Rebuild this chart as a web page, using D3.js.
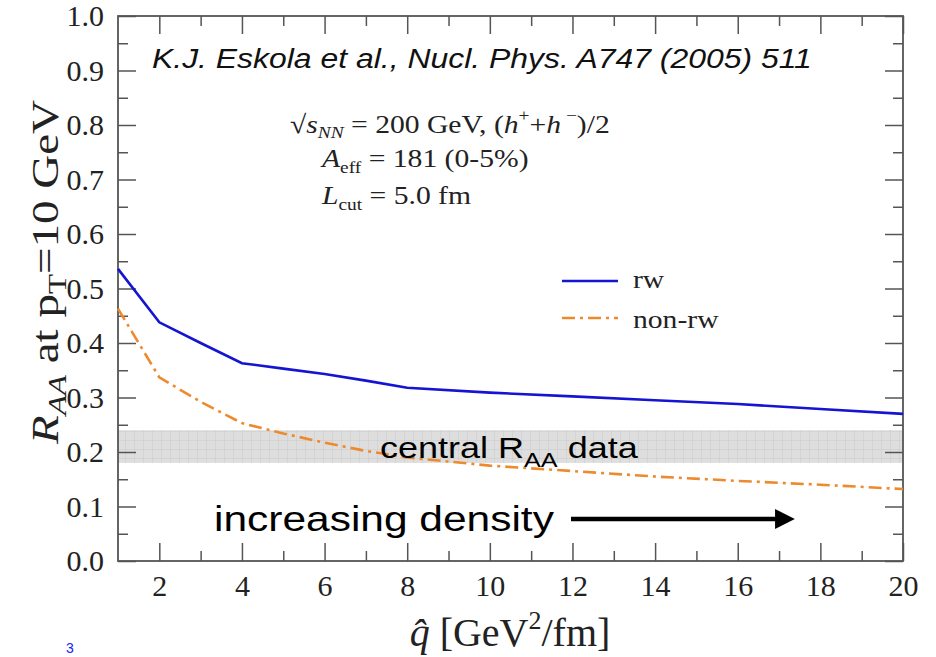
<!DOCTYPE html>
<html>
<head>
<meta charset="utf-8">
<script src="https://cdn.jsdelivr.net/npm/d3@7"></script>
<style>
  html, body { margin: 0; padding: 0; background: #fff; }
  svg { display: block; }
</style>
</head>
<body>
<svg id="chart" width="936" height="657"></svg>
<script>
// q-hat values (GeV^2/fm)
const qhat = [1, 2, 3, 4, 5, 6, 7, 8, 10, 12, 14, 16, 18, 20];
// R_AA at pT = 10 GeV, with reweighting
const rw = [0.536, 0.438, 0.400, 0.363, 0.353, 0.343, 0.331, 0.318, 0.309, 0.302, 0.295, 0.288, 0.279, 0.270];
// R_AA without reweighting
const nonRw = [0.463, 0.337, 0.292, 0.253, 0.234, 0.217, 0.202, 0.190, 0.175, 0.165, 0.155, 0.147, 0.140, 0.132];
// central R_AA data band
const dataBand = [0.18, 0.24];
const xTicks = [2, 4, 6, 8, 10, 12, 14, 16, 18, 20];
const yTicks = [0, 0.1, 0.2, 0.3, 0.4, 0.5, 0.6, 0.7, 0.8, 0.9, 1.0];

const svg = d3.select("#chart");
const plot = { left: 118, right: 903, top: 16, bottom: 561 };

const x = d3.scaleLinear().domain([1, 20]).range([plot.left, plot.right]);
const y = d3.scaleLinear().domain([0, 1]).range([plot.bottom, plot.top]);

const frameColor = "#555";
const blue = "#1414d2";
const orange = "#ee8a2e";
const dashDot = "13 5 3 5";
const serif = "'Liberation Serif', 'DejaVu Serif', serif";
const sans = "'Liberation Sans', Arial, sans-serif";

// text placed at (tx, ty), widened horizontally by sx, optionally rotated
function wideText(tx, ty, sx, angle = 0) {
  return svg.append("g")
    .attr("transform", `translate(${tx},${ty}) rotate(${angle}) scale(${sx},1)`)
    .append("text");
}

// grid pattern for the data band
const defs = svg.append("defs");
const pat = defs.append("pattern")
  .attr("id", "grid").attr("patternUnits", "userSpaceOnUse")
  .attr("width", 9).attr("height", 9);
pat.append("rect").attr("width", 9).attr("height", 9).attr("fill", "#dedede");
pat.append("path").attr("d", "M9 0V9M0 9H9").attr("stroke", "#c4c4c4").attr("stroke-width", 0.8);

svg.append("rect")
  .attr("x", x(1)).attr("width", x(20) - x(1))
  .attr("y", y(dataBand[1])).attr("height", y(dataBand[0]) - y(dataBand[1]))
  .attr("fill", "url(#grid)");

// axes with inward ticks
function styleAxis(g) {
  g.attr("font-family", serif).attr("font-size", 30);
  g.selectAll(".domain").remove();
  g.selectAll(".tick line").attr("stroke", frameColor).attr("stroke-width", 1.5);
  g.selectAll(".tick text").attr("font-family", serif).attr("font-size", 30).attr("fill", "#222");
}
const minorY = d3.range(0.05, 1, 0.1);
const minorX = d3.range(3, 20, 2);

svg.append("g").attr("transform", `translate(${plot.left},0)`)
  .call(d3.axisLeft(y).tickValues(yTicks).tickFormat(d3.format(".1f")).tickSize(-18).tickPadding(14))
  .call(styleAxis);
svg.append("g").attr("transform", `translate(${plot.left},0)`)
  .call(d3.axisLeft(y).tickValues(minorY).tickFormat("").tickSize(-10))
  .call(styleAxis);
svg.append("g").attr("transform", `translate(${plot.right},0)`)
  .call(d3.axisRight(y).tickValues(yTicks).tickFormat("").tickSize(-18))
  .call(styleAxis);
svg.append("g").attr("transform", `translate(${plot.right},0)`)
  .call(d3.axisRight(y).tickValues(minorY).tickFormat("").tickSize(-10))
  .call(styleAxis);

svg.append("g").attr("transform", `translate(0,${plot.bottom})`)
  .call(d3.axisBottom(x).tickValues(xTicks).tickFormat(d3.format("d")).tickSize(-18).tickPadding(14))
  .call(styleAxis);
svg.append("g").attr("transform", `translate(0,${plot.bottom})`)
  .call(d3.axisBottom(x).tickValues(minorX).tickFormat("").tickSize(-10))
  .call(styleAxis);
svg.append("g").attr("transform", `translate(0,${plot.top})`)
  .call(d3.axisTop(x).tickValues(xTicks).tickFormat("").tickSize(-18))
  .call(styleAxis);
svg.append("g").attr("transform", `translate(0,${plot.top})`)
  .call(d3.axisTop(x).tickValues(minorX).tickFormat("").tickSize(-10))
  .call(styleAxis);

// frame
svg.append("rect")
  .attr("x", plot.left).attr("y", plot.top)
  .attr("width", plot.right - plot.left).attr("height", plot.bottom - plot.top)
  .attr("fill", "none").attr("stroke", frameColor).attr("stroke-width", 1.8);

// curves
const line = d3.line().x(d => x(d[0])).y(d => y(d[1]));
svg.append("path")
  .datum(qhat.map((q, i) => [q, nonRw[i]]))
  .attr("d", line).attr("fill", "none")
  .attr("stroke", orange).attr("stroke-width", 2.6)
  .attr("stroke-dasharray", dashDot);
svg.append("path")
  .datum(qhat.map((q, i) => [q, rw[i]]))
  .attr("d", line).attr("fill", "none")
  .attr("stroke", blue).attr("stroke-width", 2.6);

// legend
svg.append("line").attr("x1", 562).attr("x2", 618).attr("y1", 281).attr("y2", 281)
  .attr("stroke", blue).attr("stroke-width", 2.6);
wideText(633, 288, 1.14).attr("font-family", serif).attr("font-size", 26).attr("fill", "#222").text("rw");
svg.append("line").attr("x1", 562).attr("x2", 618).attr("y1", 318).attr("y2", 318)
  .attr("stroke", orange).attr("stroke-width", 2.6).attr("stroke-dasharray", dashDot);
wideText(633, 328, 1.14).attr("font-family", serif).attr("font-size", 26).attr("fill", "#222").text("non-rw");

// reference
wideText(152, 68, 1.14)
  .attr("font-family", sans).attr("font-style", "italic").attr("font-size", 28).attr("fill", "#111")
  .text("K.J. Eskola et al., Nucl. Phys. A747 (2005) 511");

// parameters
function infoText(tx, ty) {
  return wideText(tx, ty, 1.14).attr("font-family", serif).attr("font-size", 26).attr("fill", "#222");
}
const t1 = infoText(290, 133);
t1.append("tspan").text("√");
t1.append("tspan").attr("font-style", "italic").text("s");
t1.append("tspan").attr("font-style", "italic").attr("font-size", 17).attr("dy", 5).text("NN");
t1.append("tspan").attr("dy", -5).text(" = 200 GeV, (");
t1.append("tspan").attr("font-style", "italic").text("h");
t1.append("tspan").attr("font-size", 17).attr("dy", -12).text("+");
t1.append("tspan").attr("dy", 12).text("+");
t1.append("tspan").attr("font-style", "italic").text("h");
t1.append("tspan").attr("font-size", 17).attr("dy", -12).text(" −");
t1.append("tspan").attr("dy", 12).text(")/2");

const t2 = infoText(322, 167);
t2.append("tspan").attr("font-style", "italic").text("A");
t2.append("tspan").attr("font-size", 17).attr("dy", 6).text("eff");
t2.append("tspan").attr("dy", -6).text(" = 181 (0-5%)");

const t3 = infoText(322, 204);
t3.append("tspan").attr("font-style", "italic").text("L");
t3.append("tspan").attr("font-size", 17).attr("dy", 6).text("cut");
t3.append("tspan").attr("dy", -6).text(" = 5.0 fm");

// band label
const bl = wideText(380, 458, 1.2)
  .attr("font-family", sans).attr("font-size", 30).attr("fill", "#000");
bl.append("tspan").text("central R");
bl.append("tspan").attr("font-size", 21).attr("dy", 9).text("AA");
bl.append("tspan").attr("dy", -9).text(" data");

// density arrow
wideText(214, 531, 1.18)
  .attr("font-family", sans).attr("font-size", 36).attr("fill", "#000")
  .text("increasing density");
defs.append("marker").attr("id", "head").attr("viewBox", "0 0 10 10")
  .attr("refX", 2).attr("refY", 5).attr("markerWidth", 6).attr("markerHeight", 4.4)
  .attr("orient", "auto").attr("markerUnits", "strokeWidth")
  .append("path").attr("d", "M0 0L10 5L0 10Z").attr("fill", "#000");
svg.append("line").attr("x1", 571).attr("x2", 779).attr("y1", 519).attr("y2", 519)
  .attr("stroke", "#000").attr("stroke-width", 4.5).attr("marker-end", "url(#head)");

// axis titles
const xt = svg.append("text").attr("x", 510).attr("y", 646).attr("text-anchor", "middle")
  .attr("font-family", serif).attr("font-size", 40).attr("fill", "#222");
xt.append("tspan").attr("font-style", "italic").text("q̂");
xt.append("tspan").text(" [GeV");
xt.append("tspan").attr("font-size", 26).attr("dy", -17).text("2");
xt.append("tspan").attr("dy", 17).text("/fm]");

const yt = wideText(58, 272, 1.27, -90)
  .attr("text-anchor", "middle")
  .attr("font-family", serif).attr("font-size", 37).attr("fill", "#222");
yt.append("tspan").attr("font-style", "italic").text("R");
yt.append("tspan").attr("font-style", "italic").attr("font-size", 26).attr("dy", 8).text("AA");
yt.append("tspan").attr("dy", -8).text(" at p");
yt.append("tspan").attr("font-size", 26).attr("dy", 8).text("T");
yt.append("tspan").attr("dy", -8).text("=10 GeV");

// page number
svg.append("text").attr("x", 66).attr("y", 653)
  .attr("font-family", sans).attr("font-size", 14).attr("fill", "#1a1aff").text("3");
</script>
</body>
</html>
